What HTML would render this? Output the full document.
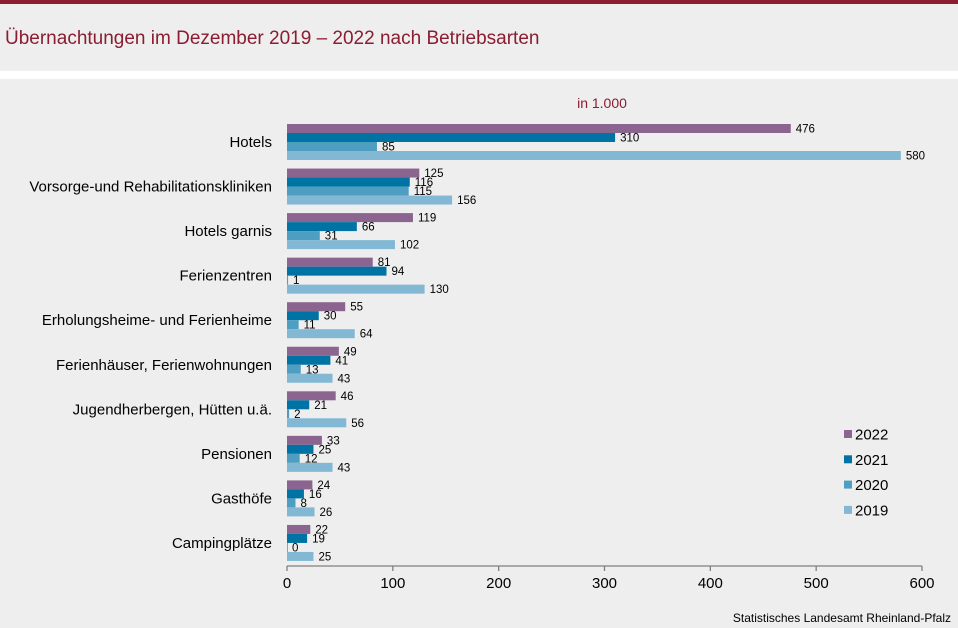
<!DOCTYPE html>
<html><head><meta charset="utf-8"><style>
html,body{margin:0;padding:0;width:958px;height:628px;overflow:hidden;background:#edeeed;font-family:"Liberation Sans",sans-serif}
</style></head><body>
<svg width="958" height="628" xmlns="http://www.w3.org/2000/svg" id="svg" font-family="Liberation Sans, sans-serif">
<rect x="0" y="0" width="958" height="628" fill="#edeeed"/>
<rect x="0" y="0" width="958" height="4" fill="#8b1c32"/>
<rect x="0" y="71" width="958" height="8" fill="#ffffff"/>
<text x="5" y="44" font-size="19" fill="#8b1c32">Übernachtungen im Dezember 2019 – 2022 nach Betriebsarten</text>
<text x="602" y="108" font-size="14" fill="#8b1c32" text-anchor="middle">in 1.000</text>
<text x="951" y="622" font-size="12" fill="#000" text-anchor="end">Statistisches Landesamt Rheinland-Pfalz</text>
<g id="plot"></g>
</svg>
<script>
const categories=["Hotels","Vorsorge-und Rehabilitationskliniken","Hotels garnis","Ferienzentren","Erholungsheime- und Ferienheime","Ferienhäuser, Ferienwohnungen","Jugendherbergen, Hütten u.ä.","Pensionen","Gasthöfe","Campingplätze"];
const seriesNames=["2022","2021","2020","2019"];
const v2022=[476,125,119,81,55,49,46,33,24,22];
const v2021=[310,116,66,94,30,41,21,25,16,19];
const v2020=[85,115,31,1,11,13,2,12,8,0];
const v2019=[580,156,102,130,64,43,56,43,26,25];
const ticks=[0,100,200,300,400,500,600];
const series=[v2022,v2021,v2020,v2019];
const colors=["#8b6590","#0073a5","#4d9ec1","#82b8d4"];
const NS="http://www.w3.org/2000/svg";
const g=document.getElementById("plot");
const x0=287,x1=922,xmax=600;
const X=v=>x0+v/xmax*(x1-x0);
const groupTop=i=>124+i*44.55;
const barH=9;
function mk(tag,attrs){const e=document.createElementNS(NS,tag);for(const k in attrs)e.setAttribute(k,attrs[k]);g.appendChild(e);return e;}
categories.forEach((c,i)=>{
  const t=mk("text",{x:272,y:groupTop(i)+18+5,"font-size":15,"text-anchor":"end",fill:"#000"});
  t.textContent=c;
  
  
  series.forEach((s,j)=>{
    const y=groupTop(i)+j*barH;
    const r=mk("rect",{x:x0,y:y,width:Math.max(X(s[i])-x0,0.8),height:barH,fill:colors[j]});
    
    
    const l=mk("text",{x:X(s[i])+5,y:y+barH/2+4,"font-size":11.5,fill:"#000"});
    l.textContent=s[i];
    
    
  });
});
const ax=mk("line",{x1:x0,x2:x1,y1:566,y2:566,stroke:"#808080","stroke-width":1.3});


ticks.forEach(t=>{
  const tl=mk("line",{x1:X(t),x2:X(t),y1:566,y2:571,stroke:"#808080","stroke-width":1.3});
  
  
  const tt=mk("text",{x:X(t),y:588,"font-size":15,"text-anchor":"middle",fill:"#000"});
  tt.textContent=t;
  
  
});
seriesNames.forEach((n,j)=>{
  const y=434+j*25.3;
  const sq=mk("rect",{x:844,y:y-4,width:8,height:8,fill:colors[j]});
  
  
  const lt=mk("text",{x:855,y:y+5.5,"font-size":15,fill:"#000"});
  lt.textContent=n;
  
  
});
</script>
</body></html>
